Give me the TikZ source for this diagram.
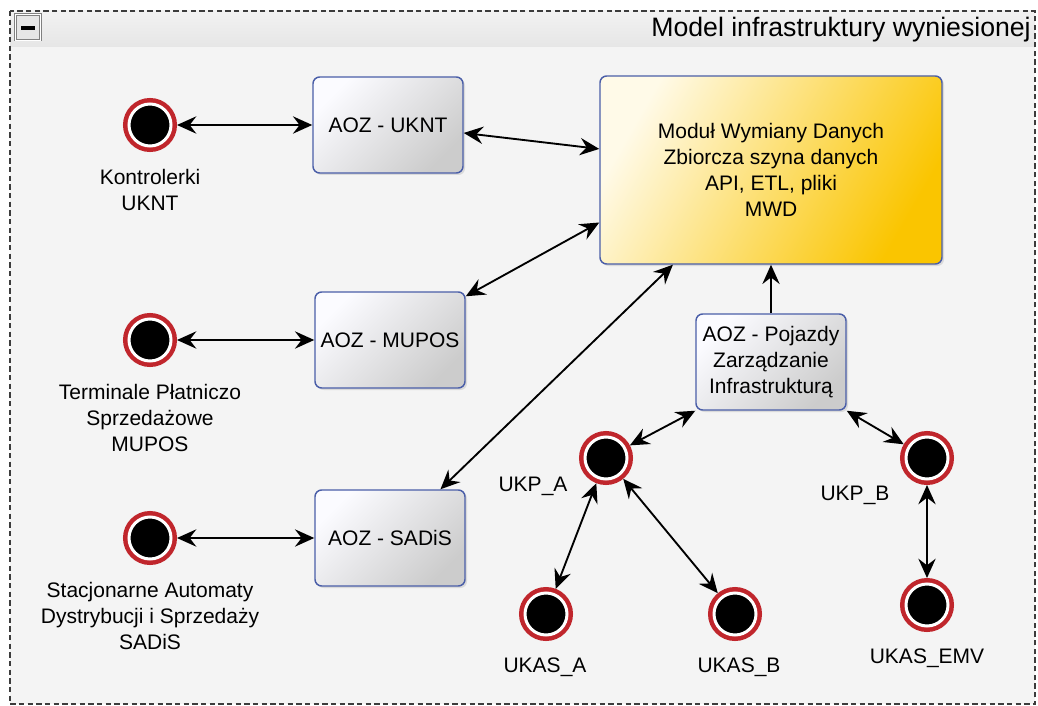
\documentclass[tikz,border=0pt]{standalone}
\usepackage{fontspec}
\setmainfont{Liberation Sans}
\usetikzlibrary{arrows.meta,shadows}
\definecolor{bgc}{HTML}{F4F4F4}
\definecolor{hdrtop}{HTML}{F2F2F2}
\definecolor{hdrbot}{HTML}{E6E6E6}
\definecolor{boxborder}{HTML}{4A5EA8}
\definecolor{ringred}{HTML}{C0262C}
\definecolor{gold}{HTML}{FAC500}
\definecolor{cream}{HTML}{FFFAE8}
\definecolor{boxlight}{HTML}{FBFBFF}
\definecolor{boxdark}{HTML}{CCCCCC}
\definecolor{framec}{HTML}{3C3C3C}
\tikzset{
  aoz/.style={rectangle, rounded corners=5pt, draw=boxborder, line width=1.1pt,
    top color=boxlight, bottom color=boxdark, shading angle=45,
    minimum width=112.5pt, minimum height=72pt, align=center, inner sep=2pt,
    font=\fontsize{15.75pt}{19.5pt}\selectfont,
    drop shadow={opacity=0.22, shadow xshift=1.5pt, shadow yshift=-1.5pt}},
  mwdbox/.style={rectangle, rounded corners=5pt, draw=boxborder, line width=1.1pt,
    top color=cream, bottom color=gold, shading angle=60,
    minimum width=256.5pt, minimum height=141pt, align=center,
    font=\fontsize{15.75pt}{19.5pt}\selectfont,
    drop shadow={opacity=0.22, shadow xshift=1.5pt, shadow yshift=-1.5pt}},
  term/.style={circle, minimum size=31.5pt, inner sep=0pt, fill=black, draw=white,
    line width=2.25pt, preaction={draw=ringred, line width=9pt}, outer sep=4.5pt},
  lbl/.style={align=center, inner sep=0pt, font=\fontsize{15.75pt}{19.5pt}\selectfont},
  tip/.tip={Stealth[length=14.5pt,width=13pt,inset=5pt]},
  conn/.style={line width=1.4pt, draw=black},
  both/.style={conn, tip-tip},
  one/.style={conn, -tip},
}
\begin{document}
\begin{tikzpicture}[x=0.75pt,y=-0.75pt]
\useasboundingbox (0,0) rectangle (1038,706);
\fill[white] (0,0) rectangle (1038,706);
\fill[bgc] (10,11) rectangle (1035,704);
\shade[top color=hdrtop, bottom color=hdrbot] (10,11) rectangle (1035,47);
\draw[framec, line width=1pt, dash pattern=on 4pt off 2.5pt] (10,11) rectangle (1035,704);
% collapse button
\node[draw=gray, double=white, double distance=0.8pt, fill=hdrbot, line width=0.6pt, minimum size=19pt, inner sep=0pt] (btn) at (28,27.5) {};
\fill[black] (21,26) rectangle (35,30);
\node[anchor=east, inner sep=0pt, font=\fontsize{20pt}{24pt}\selectfont] (title) at (1031,30) {Model infrastruktury wyniesionej};

% boxes
\node[aoz] (uknt) at (388,125) {AOZ - UKNT};
\node[aoz] (mupos) at (390,340) {AOZ - MUPOS};
\node[aoz] (sadis) at (390,538) {AOZ - SADiS};
\node[aoz] (poj) at (771,362) {AOZ - Pojazdy\\Zarządzanie\\Infrastrukturą};
\node[mwdbox] (mwd) at (771,170) {Moduł Wymiany Danych\\Zbiorcza szyna danych\\API, ETL, pliki\\MWD};

% terminals
\node[term] (ckon) at (150,125) {};
\node[term] (cter) at (150,340) {};
\node[term] (csta) at (150,538) {};
\node[term] (ukpa) at (606,458) {};
\node[term] (ukpb) at (927,458) {};
\node[term] (ukasa) at (546,614) {};
\node[term] (ukasb) at (735,614) {};
\node[term] (ukasemv) at (927,605) {};

% labels
\node[lbl] (lkon) at (150,190) {Kontrolerki\\UKNT};
\node[lbl] (lter) at (150,418) {Terminale Płatniczo\\Sprzedażowe\\MUPOS};
\node[lbl] (lsta) at (150,616) {Stacjonarne Automaty\\Dystrybucji i Sprzedaży\\SADiS};
\node[lbl] (lukpa) at (533,486) {UKP\_A};
\node[lbl] (lukpb) at (855,495) {UKP\_B};
\node[lbl] (lukasa) at (545,667) {UKAS\_A};
\node[lbl] (lukasb) at (739,667) {UKAS\_B};
\node[lbl] (lukasemv) at (927,658) {UKAS\_EMV};

% connectors
\draw[both] (ckon) -- (uknt);
\draw[both] (cter) -- (mupos);
\draw[both] (csta) -- (sadis);
\draw[both] (uknt.-6) -- (mwd.173);
\draw[both] (mupos.30) -- (mwd.197);
\draw[both] (sadis.44) -- (mwd.224);
\draw[one] (poj) -- (mwd);
\draw[both] (poj.south west) -- (ukpa);
\draw[both] (poj.south east) -- (ukpb);
\draw[both] (ukpa) -- (ukasa);
\draw[both] (ukpa) -- (ukasb);
\draw[both] (ukpb) -- (ukasemv);
\end{tikzpicture}
\end{document}
